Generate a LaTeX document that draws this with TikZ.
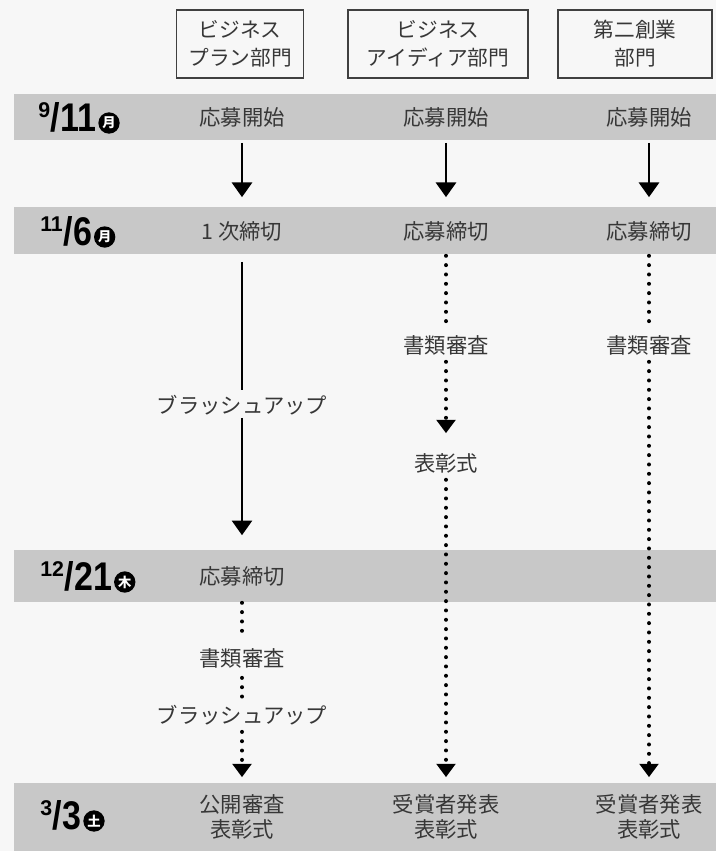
\documentclass[tikz,border=0pt]{standalone}
\usepackage{graphicx}
\usepackage{fontspec}
\setmainfont{Liberation Sans}
\newfontfamily\jp{Noto Sans CJK JP}
\usetikzlibrary{arrows.meta}

\definecolor{bandgray}{RGB}{200,200,200}
\definecolor{paper}{RGB}{247,247,247}
\definecolor{ink}{RGB}{55,55,55}

% month over slash, big day
\newcommand{\mday}[2]{\raisebox{10pt}{\fontsize{16}{16}\selectfont #1}\kern0.5pt\scalebox{0.85}[1]{/\kern0.5pt#2}}

\begin{document}
\begin{tikzpicture}[x=0.75pt,y=-0.75pt]
\tikzstyle{band}=[fill=bandgray, draw=none]
\tikzstyle{lbl}=[font=\jp\fontsize{16}{19}\selectfont, text=ink, align=center, inner sep=0pt]
\tikzstyle{hdr}=[draw=black!75, line width=1.1pt, font=\jp\fontsize{15.5}{21}\selectfont, text=ink, align=center, minimum height=51pt]
\tikzstyle{datelbl}=[font=\bfseries\fontsize{30}{30}\selectfont, anchor=base west, inner sep=0pt]
\tikzstyle{dowmark}=[circle, fill=black, text=white, inner sep=0pt, minimum size=16pt, font=\jp\bfseries\fontsize{10}{10}\selectfont]
\tikzstyle{solidline}=[draw, line width=2.2pt]
\tikzstyle{solidarr}=[solidline, -{Triangle[length=11pt,width=15pt]}]
\tikzstyle{dotline}=[draw, line width=3pt, line cap=round, dash pattern=on 0pt off 7pt]
\tikzstyle{dotarr}=[dotline, -{Triangle[length=10pt,width=14pt]}]

% paper and date bands
\useasboundingbox (0,0) rectangle (716,851);
\fill[paper] (0,0) rectangle (716,851);
\path[band] (14,94) rectangle (716,140);
\path[band] (14,207) rectangle (716,254);
\path[band] (14,550) rectangle (716,602);
\path[band] (14,783) rectangle (716,851);

% section headers
\node[hdr, minimum width=95pt] (h1) at (240,44) {ビジネス\\プラン部門};
\node[hdr, minimum width=135pt] (h2) at (438,44) {ビジネス\\アイディア部門};
\node[hdr, minimum width=115.5pt] (h3) at (635,44) {第二創業\\部門};

% dates
\node[datelbl] (t1) at (38,131) {\mday{9}{11}};
\node[dowmark] (w1) at ([xshift=9pt,yshift=6pt]t1.base east) {月};
\node[datelbl] (t2) at (40,245) {\mday{11}{6}};
\node[dowmark] (w2) at ([xshift=9pt,yshift=6pt]t2.base east) {月};
\node[datelbl] (t3) at (40,590) {\mday{12}{21}};
\node[dowmark] (w3) at ([xshift=9pt,yshift=6pt]t3.base east) {木};
\node[datelbl] (t4) at (40,829) {\mday{3}{3}};
\node[dowmark] (w4) at ([xshift=9pt,yshift=6pt]t4.base east) {土};

% plan column
\node[lbl] (s1) at (242,117) {応募開始};
\node[lbl] (d1) at (242,231) {1 次締切};
\node[lbl] (br1) at (242,405) {ブラッシュアップ};
\node[lbl] (d1b) at (242,576) {応募締切};
\node[lbl] (rev1) at (242,658) {書類審査};
\node[lbl] (br2) at (242,715) {ブラッシュアップ};
\node[lbl] (fin1) at (242,817) {公開審査\\表彰式};

% idea column
\node[lbl] (s2) at (446,117) {応募開始};
\node[lbl] (d2) at (446,231) {応募締切};
\node[lbl] (rev2) at (446,345) {書類審査};
\node[lbl] (aw2) at (446,463) {表彰式};
\node[lbl] (fin2) at (446,817) {受賞者発表\\表彰式};

% second-startup column
\node[lbl] (s3) at (649,117) {応募開始};
\node[lbl] (d3) at (649,231) {応募締切};
\node[lbl] (rev3) at (649,345) {書類審査};
\node[lbl] (fin3) at (649,817) {受賞者発表\\表彰式};

% flow
\draw[solidarr, shorten <=11.8pt, shorten >=17.8pt] (s1) -- (d1);
\draw[solidarr, shorten <=11.8pt, shorten >=17.8pt] (s2) -- (d2);
\draw[solidarr, shorten <=11.8pt, shorten >=17.8pt] (s3) -- (d3);

\draw[solidline, shorten <=15.5pt, shorten >=3.5pt] (d1) -- (br1);
\draw[solidarr, shorten <=2pt, shorten >=23pt] (br1) -- (d1b);
\draw[dotline, shorten <=12.5pt, shorten >=8.8pt] (d1b) -- (rev1);
\draw[dotline, shorten <=7.3pt, shorten >=3.5pt] (rev1) -- (br2);
\draw[dotarr, shorten <=5pt, shorten >=12.8pt] (br2) -- (fin1);

\draw[dotline, shorten <=11pt, shorten >=3.5pt] (d2) -- (rev2);
\draw[dotarr, shorten <=5pt, shorten >=14.8pt] (rev2) -- (aw2);
\draw[dotarr, shorten <=5pt, shorten >=12.8pt] (aw2) -- (fin2);

\draw[dotline, shorten <=11pt, shorten >=3.5pt] (d3) -- (rev3);
\draw[dotarr, shorten <=5pt, shorten >=12.8pt] (rev3) -- (fin3);
\end{tikzpicture}
\end{document}
